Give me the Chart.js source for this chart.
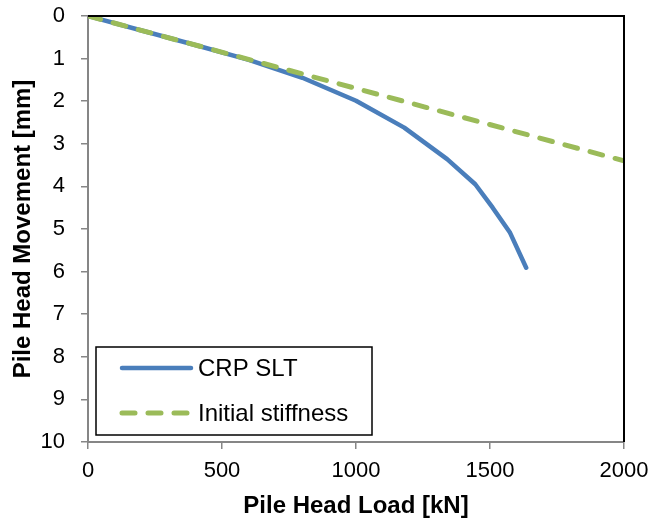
<!DOCTYPE html>
<html>
<head>
<meta charset="utf-8">
<script src="https://cdn.jsdelivr.net/npm/chart.js@4.4.1/dist/chart.umd.min.js"></script>
<style>
  html, body { margin: 0; padding: 0; background: #fff; }
  #wrap { width: 651px; height: 520px; }
</style>
</head>
<body>
<div id="wrap"><canvas id="grafico"></canvas></div>
<script>
// valores
const cargaSlt = [0, 200, 400, 600, 800, 1000, 1180, 1340, 1445, 1510, 1575, 1635];
const recalqueSlt = [0, 0.34, 0.68, 1.03, 1.45, 1.99, 2.62, 3.36, 3.95, 4.5, 5.09, 5.91];
const cargaRigidez = [0, 2000];
const recalqueRigidez = [0, 3.4];
const xTicks = [0, 500, 1000, 1500, 2000];
const yTicks = [0, 1, 2, 3, 4, 5, 6, 7, 8, 9, 10];

const pontos = (xs, ys) => xs.map((x, i) => ({ x: x, y: ys[i] }));

const fonte = "Arial, 'Liberation Sans', sans-serif";

// moldura preta em cima e a direita
const moldura = {
    id: 'moldura',
    afterDatasetsDraw(chart) {
        const { ctx, chartArea: a } = chart;
        ctx.save();
        ctx.strokeStyle = '#000';
        ctx.lineWidth = 2;
        ctx.beginPath();
        ctx.moveTo(a.left, a.top);
        ctx.lineTo(a.right, a.top);
        ctx.lineTo(a.right, a.bottom);
        ctx.stroke();
        ctx.restore();
    }
};

// legenda dentro da area do grafico
const legendaInterna = {
    id: 'legendaInterna',
    afterDraw(chart) {
        const { ctx, chartArea: a } = chart;
        const x0 = a.left + 8, y0 = a.bottom - 95, w = 276, h = 88;
        ctx.save();
        ctx.fillStyle = '#fff';
        ctx.fillRect(x0, y0, w, h);
        ctx.strokeStyle = '#000';
        ctx.lineWidth = 1.5;
        ctx.strokeRect(x0, y0, w, h);
        chart.data.datasets.forEach((ds, i) => {
            const y = y0 + 21 + i * 45;
            ctx.strokeStyle = ds.borderColor;
            ctx.lineWidth = ds.borderWidth;
            ctx.lineCap = 'round';
            ctx.setLineDash(ds.borderDash || []);
            ctx.beginPath();
            ctx.moveTo(x0 + 26, y);
            ctx.lineTo(x0 + 95, y);
            ctx.stroke();
            ctx.setLineDash([]);
            ctx.fillStyle = '#000';
            ctx.font = '24px ' + fonte;
            ctx.textBaseline = 'middle';
            ctx.fillText(ds.label, x0 + 102, y + 1);
        });
        ctx.restore();
    }
};

const semPadding = s => { s.paddingLeft = 0; s.paddingRight = 0; s.paddingTop = 0; s.paddingBottom = 0; };

new Chart(document.getElementById('grafico'), {
    type: 'scatter',
    data: {
        datasets: [{
            label: 'CRP SLT',
            data: pontos(cargaSlt, recalqueSlt),
            showLine: true,
            borderColor: '#4a7ebb',
            backgroundColor: '#4a7ebb',
            borderWidth: 4.5,
            pointRadius: 0,
            borderCapStyle: 'round',
            borderJoinStyle: 'round',
            order: 2
        }, {
            label: 'Initial stiffness',
            data: pontos(cargaRigidez, recalqueRigidez),
            showLine: true,
            borderColor: '#9bbb59',
            backgroundColor: '#9bbb59',
            borderWidth: 5,
            borderDash: [13, 13],
            borderCapStyle: 'round',
            pointRadius: 0,
            order: 1
        }]
    },
    options: {
        responsive: true,
        maintainAspectRatio: false,
        animation: false,
        layout: { padding: { left: 0, top: 16, right: 27, bottom: 0 } },
        plugins: { legend: { display: false }, tooltip: { enabled: false } },
        scales: {
            x: {
                type: 'linear',
                min: 0,
                max: 2000,
                afterFit: s => { s.height = 78; semPadding(s); },
                afterBuildTicks: s => { s.ticks = xTicks.map(v => ({ value: v })); },
                grid: { drawOnChartArea: false, drawTicks: true, tickLength: 7, color: '#868686', lineWidth: 1.5 },
                border: { color: '#868686', width: 2 },
                ticks: { color: '#000', font: { family: fonte, size: 22 }, padding: 9, callback: v => String(v) },
                title: {
                    display: true,
                    text: 'Pile Head Load [kN]',
                    color: '#000',
                    font: { family: fonte, size: 24, weight: 'bold', lineHeight: 1 },
                    padding: { top: 0, bottom: 2 }
                }
            },
            y: {
                type: 'linear',
                reverse: true,
                min: 0,
                max: 10,
                afterFit: s => { s.width = 88; semPadding(s); },
                afterBuildTicks: s => { s.ticks = yTicks.map(v => ({ value: v })); },
                grid: { drawOnChartArea: false, drawTicks: true, tickLength: 7, color: '#868686', lineWidth: 1.5 },
                border: { color: '#868686', width: 2 },
                ticks: { color: '#000', font: { family: fonte, size: 22 }, padding: 16 },
                title: {
                    display: true,
                    text: 'Pile Head Movement [mm]',
                    color: '#000',
                    font: { family: fonte, size: 24, weight: 'bold', lineHeight: 1 },
                    padding: { top: 11, bottom: 0 }
                }
            }
        }
    },
    plugins: [moldura, legendaInterna]
});
</script>
</body>
</html>
